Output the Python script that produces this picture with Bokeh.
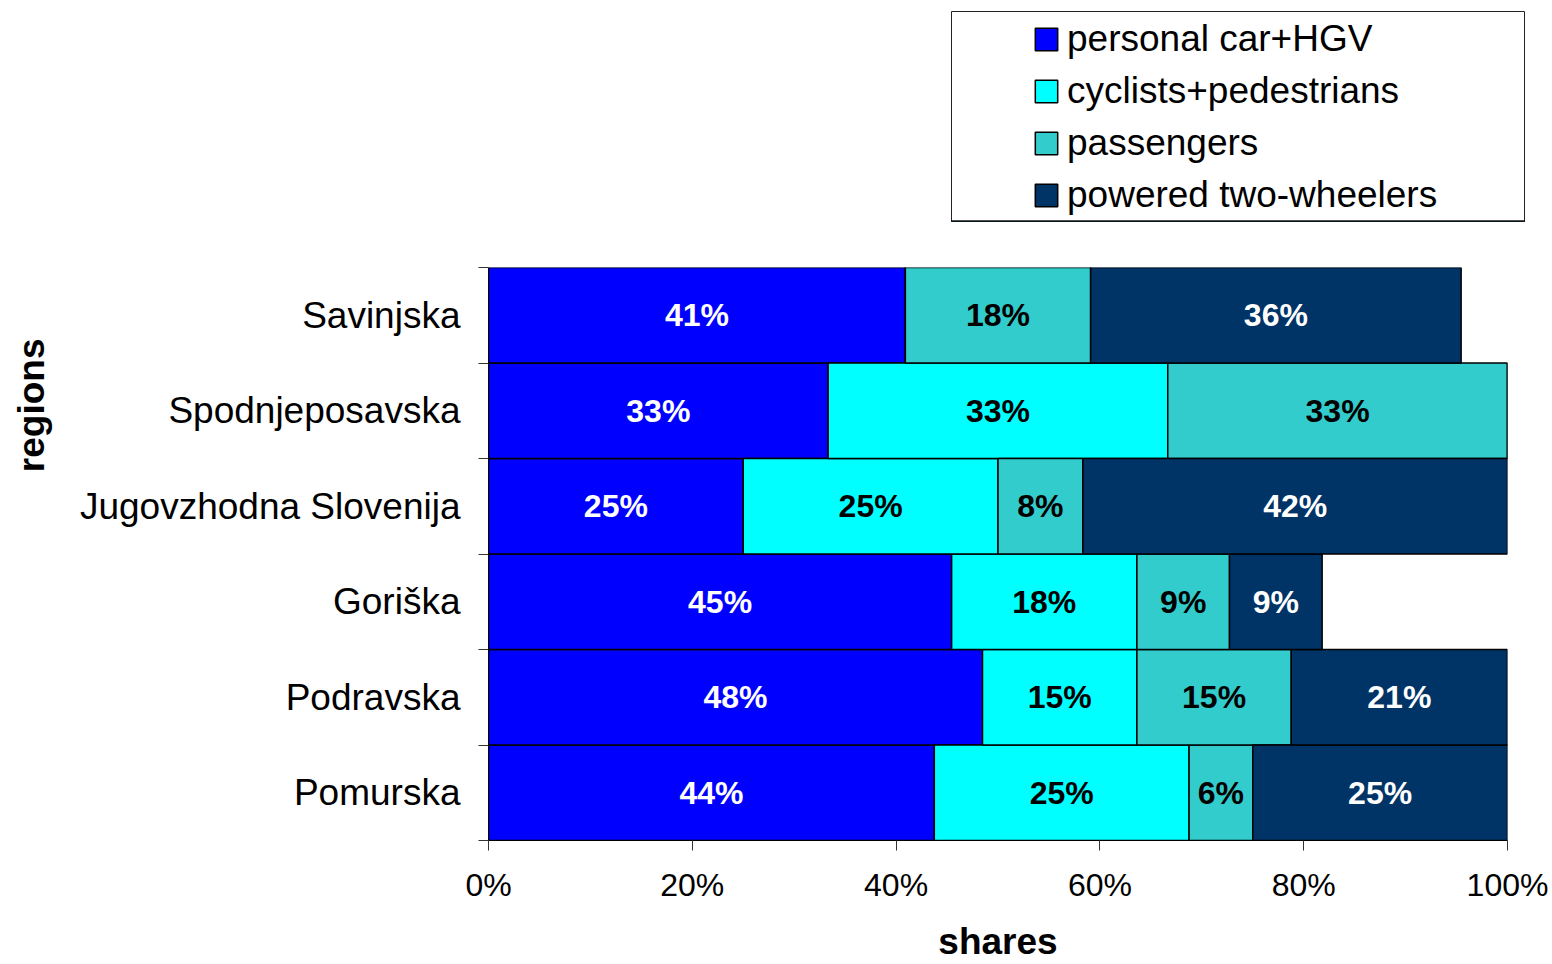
from bokeh.plotting import figure
from bokeh.models import (ColumnDataSource, FixedTicker, PrintfTickFormatter, Range1d,
                          Legend, LegendItem, Spacer, Title)
from bokeh.layouts import column, row
from bokeh.embed import file_html
from bokeh.resources import INLINE
from bokeh.core.properties import value

# ---------------- data ----------------
regions = ["Pomurska", "Podravska", "Goriška", "Jugovzhodna Slovenija",
           "Spodnjeposavska", "Savinjska"]
series = ["personal car+HGV", "cyclists+pedestrians", "passengers", "powered two-wheelers"]
car = [43.75, 48.48, 45.45, 25.00, 33.33, 40.91]
cyclists = [25.00, 15.15, 18.18, 25.00, 33.33, 0.00]
passengers = [6.25, 15.15, 9.09, 8.33, 33.33, 18.18]
ptw = [25.00, 21.21, 9.09, 41.67, 0.00, 36.36]
x_ticks = [0, 20, 40, 60, 80, 100]

colors = ["#0000FF", "#00FFFF", "#33CCCC", "#003366"]
label_colors = ["white", "black", "black", "white"]
FONT = "Liberation Sans"

SHIFT = 17  # the whole layout is nudged left so the y title sits near the page edge

# ---------------- main chart ----------------
ypos = [i + 0.5 for i in range(len(regions))]
keys = ["car", "cyclists", "passengers", "ptw"]
src = ColumnDataSource(dict(y=ypos, car=car, cyclists=cyclists, passengers=passengers, ptw=ptw))

p = figure(width=1552 + SHIFT, height=742, x_range=Range1d(0, 100), y_range=Range1d(0, len(regions)),
           min_border_left=488 + SHIFT, min_border_right=45, min_border_top=45, min_border_bottom=124,
           toolbar_location=None, output_backend="svg")
p.hbar_stack(keys, y="y", height=1, source=src, fill_color=colors,
             line_color="black", line_width=1.5)

# bar labels
lx, ly, lt, lc = [], [], [], []
all_vals = [car, cyclists, passengers, ptw]
for i, y in enumerate(ypos):
    left = 0.0
    for s, vals in enumerate(all_vals):
        v = vals[i]
        if v > 0:
            lx.append(left + v / 2)
            ly.append(y)
            lt.append(f"{v:.0f}%")
            lc.append(label_colors[s])
        left += v
lsrc = ColumnDataSource(dict(x=lx, y=ly, text=lt, color=lc))
p.text(x="x", y="y", text="text", text_color="color", source=lsrc,
       text_font=value(FONT), text_font_style="bold", text_font_size="32px",
       text_align="center", text_baseline="middle")

p.grid.visible = False
p.outline_line_color = None

xa = p.xaxis[0]
xa.ticker = FixedTicker(ticks=x_ticks, minor_ticks=[])
xa.formatter = PrintfTickFormatter(format="%d%%")
xa.major_tick_out = 10
xa.major_tick_in = 0
xa.major_tick_line_color = "#333333"
xa.axis_line_color = "black"
xa.major_label_text_font = FONT
xa.major_label_text_font_size = "32px"
xa.major_label_text_color = "black"
xa.major_label_standoff = 16
xa.axis_label = "shares"
xa.axis_label_text_font = FONT
xa.axis_label_text_font_style = "bold"
xa.axis_label_text_font_size = "37px"
xa.axis_label_text_color = "black"
xa.axis_label_standoff = 15

ya = p.yaxis[0]
ya.ticker = FixedTicker(ticks=ypos, minor_ticks=list(range(len(regions) + 1)))
ya.major_label_overrides = {y: r for y, r in zip(ypos, regions)}
ya.major_tick_out = 0
ya.major_tick_in = 0
ya.minor_tick_out = 10
ya.minor_tick_in = 0
ya.minor_tick_line_color = "#333333"
ya.axis_line_color = "black"
ya.major_label_text_font = FONT
ya.major_label_text_font_size = "37px"
ya.major_label_text_color = "black"
ya.major_label_standoff = 18

ytitle = Title(text="regions", align="right", offset=71, standoff=50,
               text_font=FONT, text_font_style="bold", text_font_size="37px",
               text_color="black")
p.add_layout(ytitle, "left")

# ---------------- legend box ----------------
lf = figure(width=575, height=212, min_border=1, x_range=Range1d(0, 1), y_range=Range1d(0, 1),
            x_axis_location=None, y_axis_location=None,
            toolbar_location=None, output_backend="svg")
lf.grid.visible = False
lf.outline_line_color = "#222222"
lf.outline_line_width = 1
# swatch renderers: one point placed outside the visible range
dummy = ColumnDataSource(dict(y=[-10], left=[0], right=[1]))
items = []
for name, c in zip(series, colors):
    r = lf.hbar(y="y", left="left", right="right", height=0.1, source=dummy,
                fill_color=c, line_color="black", line_width=1.5)
    items.append(LegendItem(label=name, renderers=[r]))
leg = Legend(items=items, location=(81, 0), label_text_font=FONT, label_text_font_size="37px",
             label_text_color="black", glyph_width=28, glyph_height=28, label_standoff=7,
             label_height=52, spacing=0, padding=0, margin=0,
             border_line_color=None, background_fill_alpha=0)
lf.add_layout(leg, "center")

layout = column(Spacer(width=10, height=10),
                row(Spacer(width=950 + SHIFT, height=212), lf),
                p, width=1552 + SHIFT, margin=(0, 0, 0, -SHIFT))

open("out.html", "w").write(file_html(layout, INLINE))
